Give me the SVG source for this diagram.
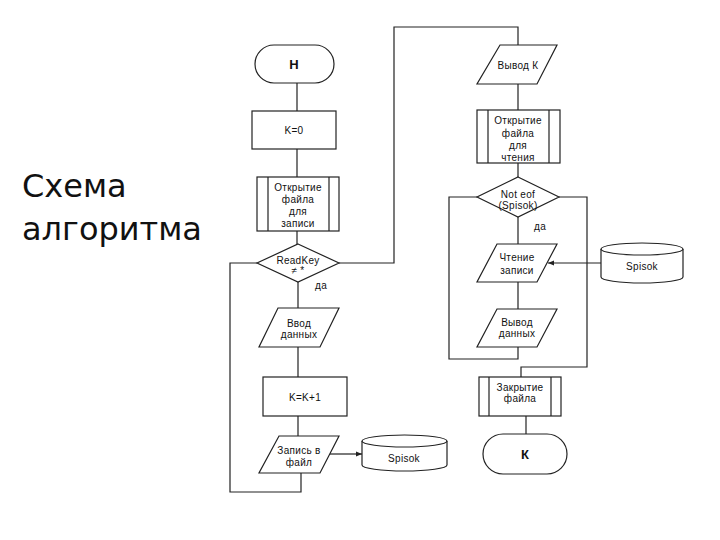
<svg xmlns="http://www.w3.org/2000/svg" width="720" height="540" viewBox="0 0 720 540">
<defs>
<marker id="arr" viewBox="0 0 10 10" refX="10" refY="5" markerWidth="6" markerHeight="6" orient="auto" markerUnits="userSpaceOnUse">
<path d="M0,1 L10,5 L0,9 z" fill="#222"/>
</marker>
<style>
.s{fill:#fff;stroke:#222;stroke-width:1.2}
.l{fill:none;stroke:#222;stroke-width:1.2}
.t{font-family:"Liberation Sans",Arial,sans-serif;font-size:10px;fill:#111;text-anchor:middle;letter-spacing:0.3px}
.b{font-family:"Liberation Sans",Arial,sans-serif;font-size:13px;font-weight:bold;fill:#111;text-anchor:middle}
.title{font-family:"DejaVu Sans",Verdana,sans-serif;font-size:32px;fill:#111}
</style>
</defs>
<rect width="720" height="540" fill="#fff"/>
<g id="title">
<text class="title" x="22" y="197">Схема</text>
<text class="title" x="22" y="240">алгоритма</text>
</g>
<g id="connectors">
<path class="l" d="M297,83 V111 M297,149 V177 M297,231 V244 M298,282 V308 M298,347 V377 M298,416 V436"/>
<path class="l" d="M301,473 V492 H230 V263 H257"/>
<path class="l" d="M339,263 H394 V27 H518 V45"/>
<line class="l" x1="330" y1="454" x2="362" y2="454" marker-end="url(#arr)"/>
<path class="l" d="M518,84 V110 M518,163 V177 M518,217 V244 M518,282 V309"/>
<path class="l" d="M518,347 V359 H449 V197 H477"/>
<path class="l" d="M559,197 H587 V367 H521 V377"/>
<path class="l" d="M526,416 V434"/>
<line class="l" x1="601" y1="263" x2="548" y2="263" marker-end="url(#arr)"/>
<text class="t" x="321" y="289">да</text>
<text class="t" x="540" y="230">да</text>
</g>
<g id="start">
<rect class="s" x="255" y="45" width="79" height="38" rx="19" ry="19"/>
<text class="b" x="294" y="69">Н</text>
</g>
<g id="k0">
<rect class="s" x="252" y="111" width="84" height="38"/>
<text class="t" x="294" y="134">K=0</text>
</g>
<g id="openWrite">
<rect class="s" x="257" y="177" width="82" height="54"/>
<path class="l" d="M268,177 V231 M329,177 V231"/>
<text class="t" x="298" y="191">Открытие</text>
<text class="t" x="298" y="203">файла</text>
<text class="t" x="298" y="215">для</text>
<text class="t" x="298" y="227">записи</text>
</g>
<g id="readkey">
<polygon class="s" points="298,244 339,263 298,282 257,263"/>
<text class="t" x="298" y="264">ReadKey</text>
<text class="t" x="298" y="274">≠ *</text>
</g>
<g id="input">
<polygon class="s" points="278,308 339,308 320,347 259,347"/>
<text class="t" x="299" y="327">Ввод</text>
<text class="t" x="299" y="338">данных</text>
</g>
<g id="inc">
<rect class="s" x="263" y="377" width="84" height="39"/>
<text class="t" x="305" y="401">K=K+1</text>
</g>
<g id="write">
<polygon class="s" points="279,436 339,436 320,473 259,473"/>
<text class="t" x="299" y="454">Запись в</text>
<text class="t" x="299" y="466">файл</text>
</g>
<g id="spisok1">
<path class="s" d="M362,441 V465 A42.5,6 0 0 0 447,465 V441"/>
<ellipse class="s" cx="404.5" cy="441" rx="42.5" ry="6"/>
<text class="t" x="404" y="462">Spisok</text>
</g>
<g id="outK">
<polygon class="s" points="500,45 557,45 537,84 477,84"/>
<text class="t" x="518" y="69">Вывод К</text>
</g>
<g id="openRead">
<rect class="s" x="477" y="110" width="83" height="53"/>
<path class="l" d="M488,110 V163 M549,110 V163"/>
<text class="t" x="518" y="124">Открытие</text>
<text class="t" x="518" y="137">файла</text>
<text class="t" x="518" y="149">для</text>
<text class="t" x="518" y="161">чтения</text>
</g>
<g id="noteof">
<polygon class="s" points="518,177 559,197 518,217 477,197"/>
<text class="t" x="518" y="198">Not eof</text>
<text class="t" x="518" y="209">(Spisok)</text>
</g>
<g id="readRec">
<polygon class="s" points="497,244 557,244 537,282 477,282"/>
<text class="t" x="517" y="261">Чтение</text>
<text class="t" x="517" y="274">записи</text>
</g>
<g id="outData">
<polygon class="s" points="497,309 557,309 537,347 477,347"/>
<text class="t" x="517" y="326">Вывод</text>
<text class="t" x="517" y="337">данных</text>
</g>
<g id="spisok2">
<path class="s" d="M601,249 V277 A41,6 0 0 0 683,277 V249"/>
<ellipse class="s" cx="642" cy="249" rx="41" ry="6"/>
<text class="t" x="642" y="270">Spisok</text>
</g>
<g id="close">
<rect class="s" x="479" y="377" width="82" height="39"/>
<path class="l" d="M489,377 V416 M551,377 V416"/>
<text class="t" x="520" y="391">Закрытие</text>
<text class="t" x="520" y="402">файла</text>
</g>
<g id="end">
<rect class="s" x="483" y="434" width="84" height="40" rx="20" ry="20"/>
<text class="b" x="525" y="459">К</text>
</g>
</svg>
